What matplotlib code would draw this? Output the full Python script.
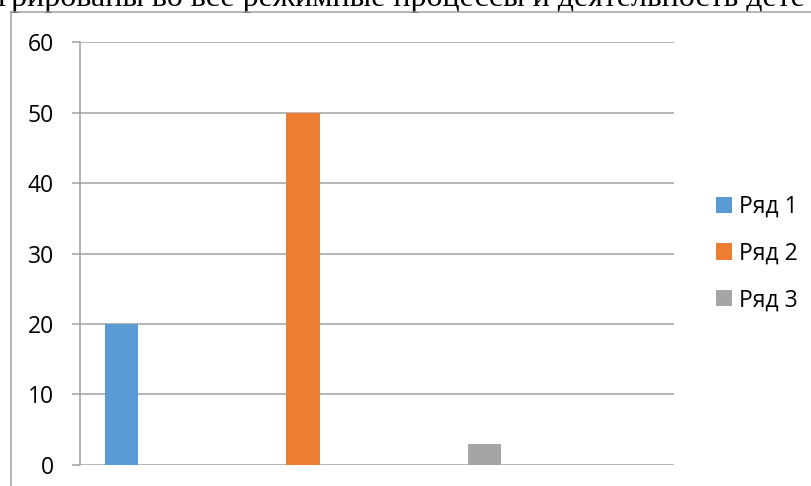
import matplotlib
matplotlib.use("Agg")
import matplotlib.pyplot as plt
import numpy as np
from matplotlib.lines import Line2D

# Data
series_names = ["Ряд 1", "Ряд 2", "Ряд 3"]
series_values = [20, 50, 3]
y_ticks = [0, 10, 20, 30, 40, 50, 60]
header_text = "грированы во все режимные процессы и деятельность дете"

COLORS = ["#5B9BD5", "#ED7D31", "#A5A5A5"]
GRID = "#A0A0A0"
FONT = ["Open Sans", "DejaVu Sans"]
PX = 0.72  # points per pixel at dpi 100

W, H = 812, 486
fig = plt.figure(figsize=(W / 100, H / 100), dpi=100, facecolor="white")

# axes placed in pixel terms
left, right, top, bottom = 80, 674, 42.3, 464.7
ax = fig.add_axes([left / W, (H - bottom) / H, (right - left) / W, (bottom - top) / H])

x = np.arange(len(series_values))
bars = []
for i, (name, val) in enumerate(zip(series_names, series_values)):
    b = ax.bar(x[i], val, width=0.182, color=COLORS[i], label=name, zorder=3)
    bars.append(b)

ax.set_xlim(-0.2287, 3.044)
ax.set_ylim(0, 60)
ax.set_yticks(y_ticks)
ax.set_yticklabels([str(t) for t in y_ticks], fontsize=16.5, family=FONT, color="black")
ax.set_xticks([])
ax.grid(axis="y", color=GRID, linewidth=1.5 * PX, zorder=0)
for s in ["top", "right", "bottom"]:
    ax.spines[s].set_visible(False)
ax.spines["left"].set_color(GRID)
ax.spines["left"].set_linewidth(1.5 * PX)
ax.tick_params(axis="y", length=8 * PX, width=1.5 * PX, color=GRID, pad=18 * PX)

# legend
leg = fig.legend(handles=[b[0] for b in bars], labels=series_names,
                 loc="upper left", bbox_to_anchor=(695 / W, (H - 174) / H),
                 frameon=False, handlelength=0.7, handleheight=0.7,
                 handletextpad=0.3, labelspacing=1.0,
                 prop={"family": FONT, "size": 16.5})

# clipped document text above the chart
fig.text(-2 / W, (H - 6) / H, header_text, fontsize=23, va="baseline", ha="left",
         family=["Liberation Serif", "DejaVu Serif"], color="black")

# outer frame of the embedded chart
fig.add_artist(Line2D([11 / W, 11 / W], [0, (H - 12) / H], color=GRID, linewidth=1.5 * PX, zorder=5))
fig.add_artist(Line2D([11 / W, 1], [(H - 12) / H, (H - 12) / H], color=GRID, linewidth=1.5 * PX, zorder=5))

fig.savefig("out.png", dpi=100, facecolor="white")
